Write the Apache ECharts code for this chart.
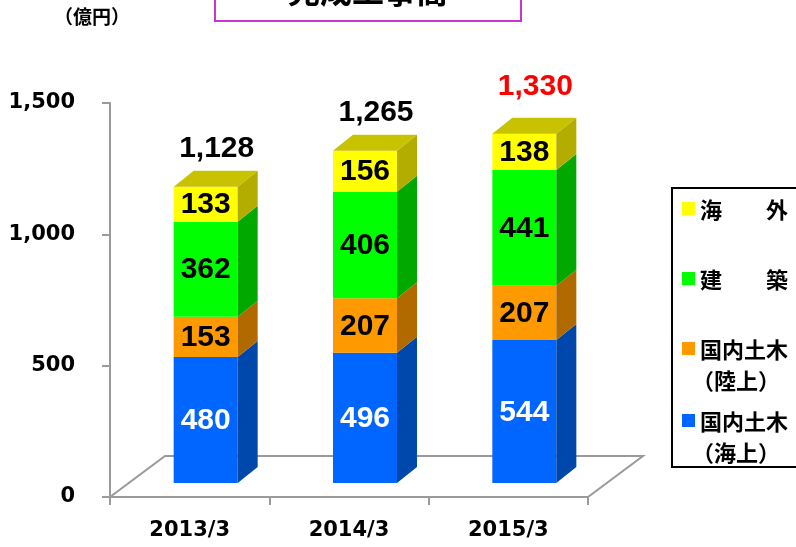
<!DOCTYPE html>
<html>
<head>
<meta charset="utf-8">
<script src="https://cdn.jsdelivr.net/npm/echarts@6/dist/echarts.min.js"></script>
<style>
  html, body { margin: 0; padding: 0; background: #fff; }
  #main { width: 796px; height: 547px; }
</style>
</head>
<body>
<div id="main"></div>
<script>
var myChart = echarts.init(document.getElementById('main'));

// data
var categories = ['2013/3', '2014/3', '2015/3'];
var seaCivil  = [480, 496, 544];   // 国内土木（海上）
var landCivil = [153, 207, 207];   // 国内土木（陸上）
var building  = [362, 406, 441];   // 建築
var overseas  = [133, 156, 138];   // 海外
var totals    = [1128, 1265, 1330];
var yTicks    = [0, 500, 1000, 1500];

var seriesNames = ['国内土木（海上）', '国内土木（陸上）', '建築', '海外'];
var seriesData = [seaCivil, landCivil, building, overseas];

// looks
var frontColors = ['#0066FF', '#FF9900', '#00FF00', '#FFFF00'];
var sideColors  = ['#0047AB', '#B06A00', '#00A800', '#B3AD00'];
var topColor    = '#C8C200';
var labelColors = ['#fff', '#000', '#000', '#000'];

var BAR_W = 64, BAR_OFF = -16, DX = 20, DY = -16, LIFT = 14;
var NUM_FONT = '"Liberation Sans", Arial, sans-serif';

function makeSegSeries(si) {
    var rows = [];
    for (var i = 0; i < categories.length; i++) {
        var base = 0;
        for (var k = 0; k < si; k++) base += seriesData[k][i];
        rows.push([i, base, base + seriesData[si][i], seriesData[si][i]]);
    }
    return {
        type: 'custom',
        name: seriesNames[si],
        data: rows,
        encode: {x: 0, y: 2},
        z: 3,
        renderItem: function (params, api) {
            var idx = api.value(0);
            var pb = api.coord([idx, api.value(1)]);
            var pt = api.coord([idx, api.value(2)]);
            var x0 = pb[0] + BAR_OFF, x1 = x0 + BAR_W;
            var yb = pb[1] - LIFT, yt = pt[1] - LIFT;
            var kids = [
                {type: 'rect', shape: {x: x0, y: yt, width: BAR_W, height: yb - yt},
                 style: {fill: frontColors[si]}},
                {type: 'polygon', shape: {points: [[x1, yb], [x1 + DX, yb + DY], [x1 + DX, yt + DY], [x1, yt]]},
                 style: {fill: sideColors[si]}}
            ];
            if (si === seriesData.length - 1) {
                kids.push({type: 'polygon',
                    shape: {points: [[x0, yt], [x0 + DX, yt + DY], [x1 + DX, yt + DY], [x1, yt]]},
                    style: {fill: topColor}});
            }
            kids.push({type: 'text', style: {
                text: String(api.value(3)), x: x0 + BAR_W / 2, y: (yt + yb) / 2 + 1,
                align: 'center', verticalAlign: 'middle',
                font: 'bold 30px ' + NUM_FONT, fill: labelColors[si]
            }});
            return {type: 'group', children: kids};
        }
    };
}

var series = [];

// floor
series.push({
    type: 'custom',
    data: [[0, 0]],
    encode: {x: 0, y: 1},
    z: 1,
    silent: true,
    renderItem: function (params, api) {
        var cs = params.coordSys;
        var bx = cs.x, by = cs.y + cs.height, ex = cs.x + cs.width;
        return {type: 'polyline', shape: {points: [[bx, by], [bx + 55, by - 41], [ex + 55, by - 41], [ex, by]]},
                style: {stroke: '#9a9a9a', lineWidth: 2, fill: null}};
    }
});

for (var s = 0; s < seriesData.length; s++) series.push(makeSegSeries(s));

// totals above bars
series.push({
    type: 'custom',
    data: totals.map(function (t, i) { return [i, t]; }),
    encode: {x: 0, y: 1},
    z: 4,
    renderItem: function (params, api) {
        var idx = api.value(0);
        var p = api.coord([idx, api.value(1)]);
        var last = idx === totals.length - 1;
        var fmt = echarts.format.addCommas(api.value(1));
        return {type: 'text', style: {
            text: fmt, x: p[0] + BAR_OFF + BAR_W / 2 + 11, y: p[1] - LIFT - (last ? 47 : 38),
            align: 'center', verticalAlign: 'middle',
            font: 'bold 30px ' + NUM_FONT, fill: last ? '#FF0000' : '#000'
        }};
    }
});

// legend (drawn by hand: two-line labels)
var legendItems = [
    {lines: ['海　　外'], y: 209},
    {lines: ['建　　築'], y: 279},
    {lines: ['国内土木', '（陸上）'], y: 349},
    {lines: ['国内土木', '（海上）'], y: 421}
];
var legendColors = [frontColors[3], frontColors[2], frontColors[1], frontColors[0]];
var CJK = '"Noto Sans CJK JP", "Noto Sans CJK SC", sans-serif';
var graphics = [
    {type: 'rect', shape: {x: 672, y: 188, width: 140, height: 279},
     style: {fill: '#fff', stroke: '#000', lineWidth: 2}, z: 10},
    {type: 'rect', shape: {x: 215, y: -10, width: 306, height: 31},
     style: {fill: '#fff', stroke: '#CC33CC', lineWidth: 2}, z: 10},
    {type: 'text', style: {text: '完成工事高', x: 368, y: -9, align: 'center', verticalAlign: 'middle',
     font: 'bold 32px ' + CJK, fill: '#000'}, z: 11},
    {type: 'text', style: {text: '（億円）', x: 54, y: 17, align: 'left', verticalAlign: 'middle',
     font: 'bold 19px ' + CJK, fill: '#000'}, z: 11}
];
legendItems.forEach(function (it, i) {
    graphics.push({type: 'rect', shape: {x: 682, y: it.y - 7, width: 13, height: 13},
                   style: {fill: legendColors[i]}, z: 11});
    it.lines.forEach(function (ln, j) {
        graphics.push({type: 'text', style: {text: ln, x: ln.charAt(0) === '（' ? 692 : 700, y: it.y + 1 + j * 31,
            align: 'left', verticalAlign: 'middle', font: 'bold 22px ' + CJK, fill: '#000'}, z: 11});
    });
});

var option = {
    animation: false,
    backgroundColor: '#fff',
    grid: {left: 110, right: 208, top: 103, bottom: 50},
    xAxis: {
        type: 'category',
        data: categories,
        axisLine: {lineStyle: {color: '#9a9a9a', width: 2}},
        axisTick: {show: true, length: 8, lineStyle: {color: '#9a9a9a', width: 2}},
        axisLabel: {color: '#000', fontFamily: '"DejaVu Sans", sans-serif', fontWeight: 'bold',
                    fontSize: 21, margin: 23}
    },
    yAxis: {
        type: 'value',
        min: yTicks[0],
        max: yTicks[yTicks.length - 1],
        interval: yTicks[1] - yTicks[0],
        axisLine: {show: true, lineStyle: {color: '#9a9a9a', width: 2}},
        axisTick: {show: true, length: 8, lineStyle: {color: '#9a9a9a', width: 2}},
        splitLine: {show: false},
        axisLabel: {color: '#000', fontFamily: '"DejaVu Sans", sans-serif', fontWeight: 'bold',
                    fontSize: 21, margin: 35,
                    formatter: function (v) { return echarts.format.addCommas(v); }}
    },
    graphic: graphics,
    series: series
};

myChart.setOption(option);
</script>
</body>
</html>
